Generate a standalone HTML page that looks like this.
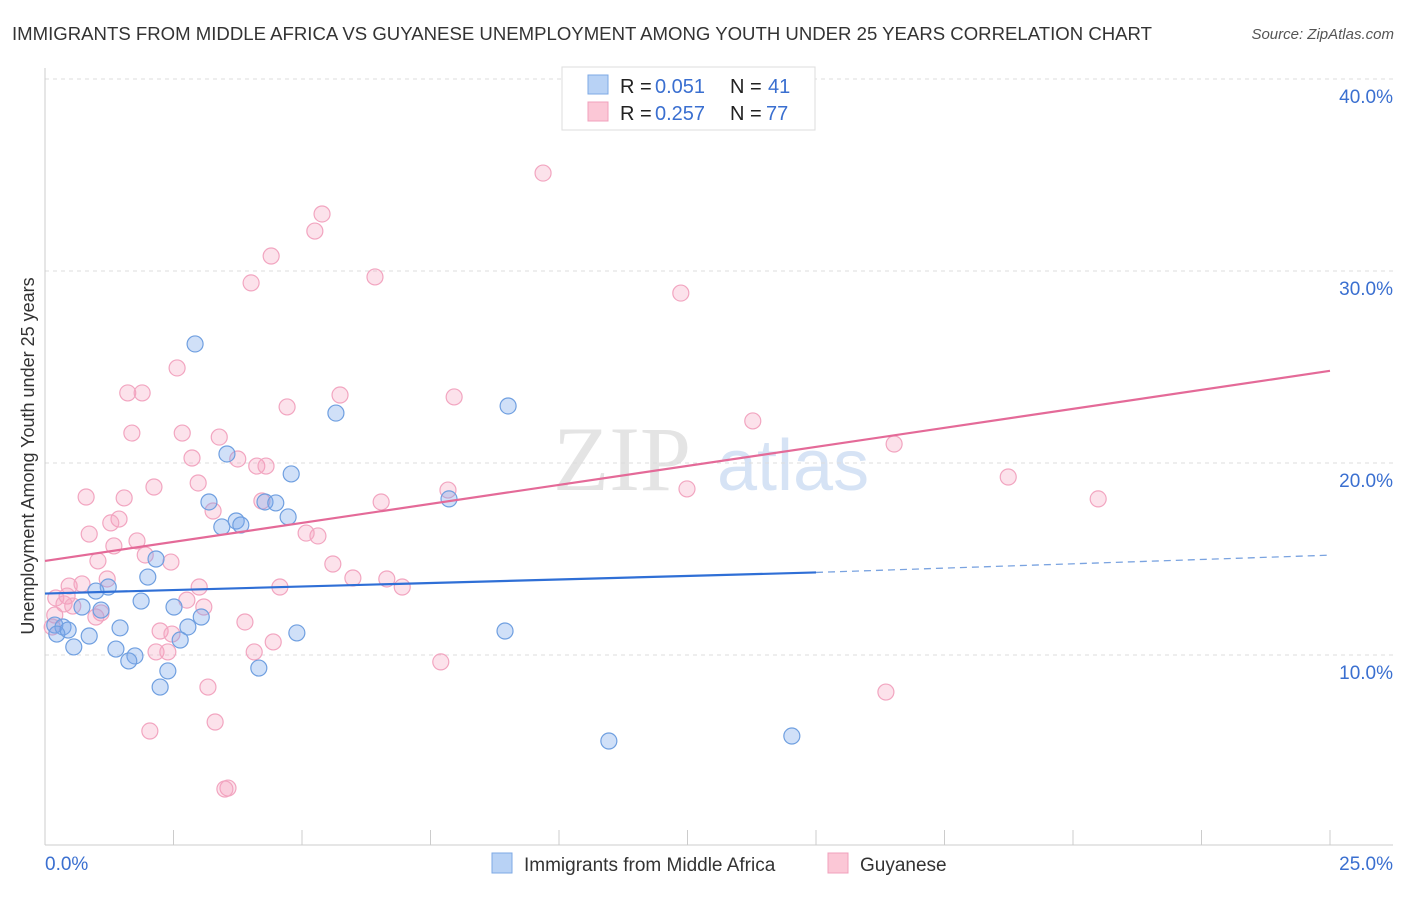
<!DOCTYPE html>
<html><head><meta charset="utf-8"><style>
body{margin:0;background:#fff;font-family:"Liberation Sans",sans-serif}
</style></head><body>
<svg id="c" width="1406" height="892" xmlns="http://www.w3.org/2000/svg">
<text x="12" y="40" font-size="18" fill="#333" textLength="1140" lengthAdjust="spacingAndGlyphs">IMMIGRANTS FROM MIDDLE AFRICA VS GUYANESE UNEMPLOYMENT AMONG YOUTH UNDER 25 YEARS CORRELATION CHART</text>
<text x="1394" y="39" font-size="15" fill="#555" text-anchor="end" font-style="italic">Source: ZipAtlas.com</text>
<g><text x="553" y="490" font-size="92" font-family="Liberation Serif" fill="#e4e4e4">ZIP</text><text x="717" y="490" font-size="72" fill="#d6e3f5">atlas</text></g>
<g id="grid"></g><g id="axes"></g><g id="marks"></g>
<text transform="translate(34,456) rotate(-90)" font-size="18" fill="#333" text-anchor="middle">Unemployment Among Youth under 25 years</text>
<g>
<rect x="562" y="67" width="253" height="63" fill="#fff" stroke="#ddd"/>
<rect x="588" y="75" width="20" height="19" fill="#b8d2f5" stroke="#7ea9e5"/>
<rect x="588" y="102" width="20" height="19" fill="#fbc7d6" stroke="#f0a0bc"/>
<text x="620" y="93" font-size="20" fill="#222">R =</text><text x="655" y="93" font-size="20" fill="#3a6fd0">0.051</text>
<text x="730" y="93" font-size="20" fill="#222">N =</text><text x="768" y="93" font-size="20" fill="#3a6fd0">41</text>
<text x="620" y="120" font-size="20" fill="#222">R =</text><text x="655" y="120" font-size="20" fill="#3a6fd0">0.257</text>
<text x="730" y="120" font-size="20" fill="#222">N =</text><text x="766" y="120" font-size="20" fill="#3a6fd0">77</text>
</g>
<g>
<rect x="492" y="853" width="20" height="20" fill="#b8d2f5" stroke="#7ea9e5"/>
<text x="524" y="871" font-size="19" fill="#333">Immigrants from Middle Africa</text>
<rect x="828" y="853" width="20" height="20" fill="#fbc7d6" stroke="#f0a0bc"/>
<text x="860" y="871" font-size="19" fill="#333">Guyanese</text>
</g>
</svg>
<script>
const yTicks=[10,20,30,40];
const yTickLabels=["10.0%","20.0%","30.0%","40.0%"];
const xLabels=["0.0%","25.0%"];
const blueX=[2.92,5.66,9.01,4.79,3.54,3.19,3.72,3.81,3.44,4.28,4.49,4.73,2.16,2.0,1.23,0.99,1.87,0.72,1.09,2.51,3.04,1.46,2.78,2.63,0.86,0.56,1.38,1.75,1.63,2.39,2.24,4.16,4.9,7.86,8.95,10.97,14.53,0.19,0.35,0.23,0.45];
const blueY=[26.2,22.6,22.97,19.43,20.47,17.97,16.98,16.77,16.67,17.97,17.92,17.19,15.0,14.06,13.54,13.33,12.81,12.5,12.34,12.5,11.98,11.41,11.46,10.78,10.99,10.42,10.31,9.95,9.69,9.17,8.33,9.32,11.15,18.13,11.25,5.52,5.78,11.56,11.46,11.09,11.3];
const pinkX=[9.69,5.39,5.25,4.40,6.42,4.01,12.37,2.57,1.61,1.89,5.74,7.96,4.71,13.77,1.69,2.67,3.39,16.52,2.86,3.75,4.12,4.30,18.74,2.12,2.98,7.84,12.49,0.80,1.54,20.49,4.22,6.54,3.27,1.44,1.28,0.86,5.31,5.08,1.34,1.79,1.95,2.45,1.03,5.60,1.21,5.99,6.65,6.95,4.57,3.00,0.47,0.72,0.21,0.43,0.37,0.54,1.09,2.76,3.09,0.99,2.24,2.47,3.89,0.19,0.14,2.16,2.39,4.07,4.44,7.70,16.36,3.17,3.31,2.04,3.56,3.50];
const pinkY=[35.10,32.97,32.08,30.78,29.69,29.38,28.85,24.95,23.65,23.65,23.54,23.44,22.92,22.19,21.56,21.56,21.35,20.99,20.26,20.21,19.84,19.84,19.27,18.75,18.96,18.59,18.65,18.23,18.18,18.13,18.02,17.97,17.5,17.08,16.88,16.30,16.20,16.35,15.68,15.94,15.21,14.84,14.90,14.74,13.96,14.01,13.96,13.54,13.54,13.54,13.59,13.70,12.97,13.07,12.66,12.55,12.19,12.86,12.5,11.98,11.25,11.09,11.72,12.08,11.46,10.16,10.16,10.16,10.68,9.64,8.07,8.33,6.51,6.04,3.07,3.02];
const blueTrend=[0,13.2,15,14.3,25,15.2];
const pinkTrend=[0,14.9,25,24.8];
const X=v=>45+v*51.4, Y=v=>847-v*19.2;
const NS="http://www.w3.org/2000/svg";
function mk(p,t,a){const e=document.createElementNS(NS,t);for(const k in a)e.setAttribute(k,a[k]);p.appendChild(e);return e;}
const grid=document.getElementById('grid'),axes=document.getElementById('axes'),marks=document.getElementById('marks');
yTicks.forEach((t,i)=>{
 const l=mk(grid,'line',{x1:45,x2:1393,y1:Y(t),y2:Y(t),stroke:'#ddd','stroke-dasharray':'4,4'});
 
 
 const tx=mk(grid,'text',{x:1393,y:Y(t)+24,'font-size':19,fill:'#3a6fd0','text-anchor':'end'});
 tx.textContent=yTickLabels[i];
 
 
});
const xa=mk(axes,'line',{x1:45,x2:1393,y1:845,y2:845,stroke:'#ccc'});


const ya=mk(axes,'line',{x1:45,x2:45,y1:68,y2:845,stroke:'#ccc'});


for(let i=0;i<=10;i++){const t=mk(axes,'line',{x1:X(i*2.5),x2:X(i*2.5),y1:830,y2:845,stroke:'#ccc'});
 
 }
[[45,'start'],[1393,'end']].forEach((d,i)=>{const t=mk(axes,'text',{x:d[0],y:870,'font-size':19,fill:'#3a6fd0','text-anchor':d[1]});t.textContent=xLabels[i];
 
 });
pinkX.forEach((v,i)=>{const c=mk(marks,'circle',{cx:X(v),cy:Y(pinkY[i]),r:8,fill:'rgba(245,160,190,0.3)',stroke:'#f2a5c0','stroke-width':1.2});
 
 });
blueX.forEach((v,i)=>{const c=mk(marks,'circle',{cx:X(v),cy:Y(blueY[i]),r:8,fill:'rgba(120,165,235,0.35)',stroke:'#6f9fe0','stroke-width':1.2});
 
 });
const b1=mk(marks,'line',{x1:X(blueTrend[0]),y1:Y(blueTrend[1]),x2:X(blueTrend[2]),y2:Y(blueTrend[3]),stroke:'#2f6fd6','stroke-width':2.2});


const b2=mk(marks,'line',{x1:X(blueTrend[2]),y1:Y(blueTrend[3]),x2:X(blueTrend[4]),y2:Y(blueTrend[5]),stroke:'#7aa3e0','stroke-width':1.3,'stroke-dasharray':'7,5'});


const p1=mk(marks,'line',{x1:X(pinkTrend[0]),y1:Y(pinkTrend[1]),x2:X(pinkTrend[2]),y2:Y(pinkTrend[3]),stroke:'#e46a98','stroke-width':2.2});


</script>
</body></html>
